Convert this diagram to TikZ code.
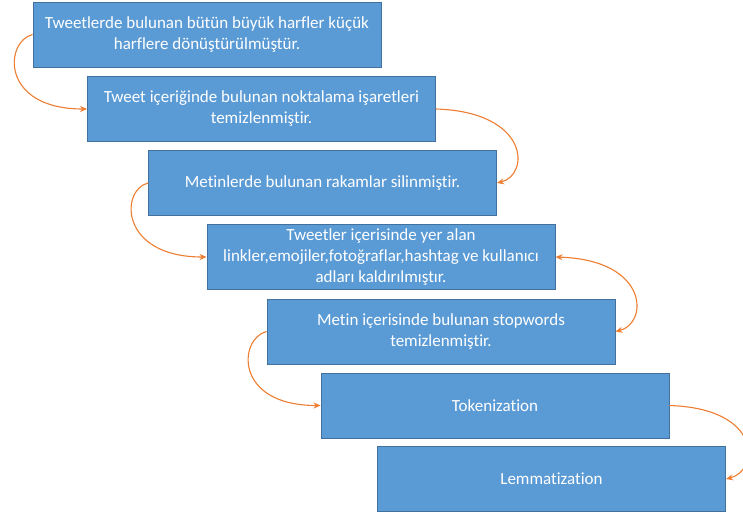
\documentclass[tikz,border=0pt]{standalone}
\usepackage{fontspec}
\setmainfont[Ligatures={NoCommon}]{Carlito}
\usetikzlibrary{arrows.meta}
\definecolor{boxblue}{HTML}{5B9BD5}
\definecolor{boxline}{HTML}{41719C}
\definecolor{linkorange}{HTML}{ED7D31}

\tikzstyle{stage}=[rectangle,fill=boxblue,draw=boxline,line width=0.9pt,minimum width=348pt,minimum height=65pt,inner sep=0pt,align=center,text=white,font=\fontsize{17}{21}\selectfont]
\tikzstyle{link} = [draw,linkorange,line width=1.1pt,-{Stealth[length=7pt,width=6pt]}]
\tikzstyle{both link} = [draw,linkorange,line width=1.1pt,{Stealth[length=7pt,width=6pt]}-{Stealth[length=7pt,width=6pt]}]

\begin{document}
\begin{tikzpicture}[x=1pt,y=-1pt]
\useasboundingbox (0,0) rectangle (743,518);
\foreach \pos/\name/\txt in {{(207,34.5)/b1/{Tweetlerde bulunan bütün büyük harfler küçük\\harflere dönüştürülmüştür.}},
                             {(261.5,109)/b2/{Tweet içeriğinde bulunan noktalama işaretleri\\temizlenmiştir.}},
                             {(322.5,183)/b3/{Metinlerde bulunan rakamlar silinmiştir.}},
                             {(381,257)/b4/{Tweetler içerisinde yer alan\\linkler,emojiler,fotoğraflar,hashtag ve kullanıcı\\adları kaldırılmıştır.}},
                             {(441,331.5)/b5/{Metin içerisinde bulunan stopwords\\temizlenmiştir.}},
                             {(495,405.5)/b6/{Tokenization}},
                             {(551.5,479)/b7/{Lemmatization}}}{
  \node[stage] (\name) at \pos {\txt};
}
% left side connectors
\foreach \source/\dest in {b1/b2, b3/b4, b5/b6} {
  \path[link] (\source.west) .. controls +(-28,7) and +(-87,0) .. (\dest.west);
}
% right side connectors
\foreach \source/\dest/\isboth in {b2/b3/0, b4/b5/1, b6/b7/0} {
  \ifnum\isboth=0
  \path[link] (\source.east) .. controls +(94,3) and +(33,-8) .. (\dest.east);
  \else
  \path[both link] (\source.east) .. controls +(94,3) and +(33,-8) .. (\dest.east);
  \fi
}
\end{tikzpicture}
\end{document}
